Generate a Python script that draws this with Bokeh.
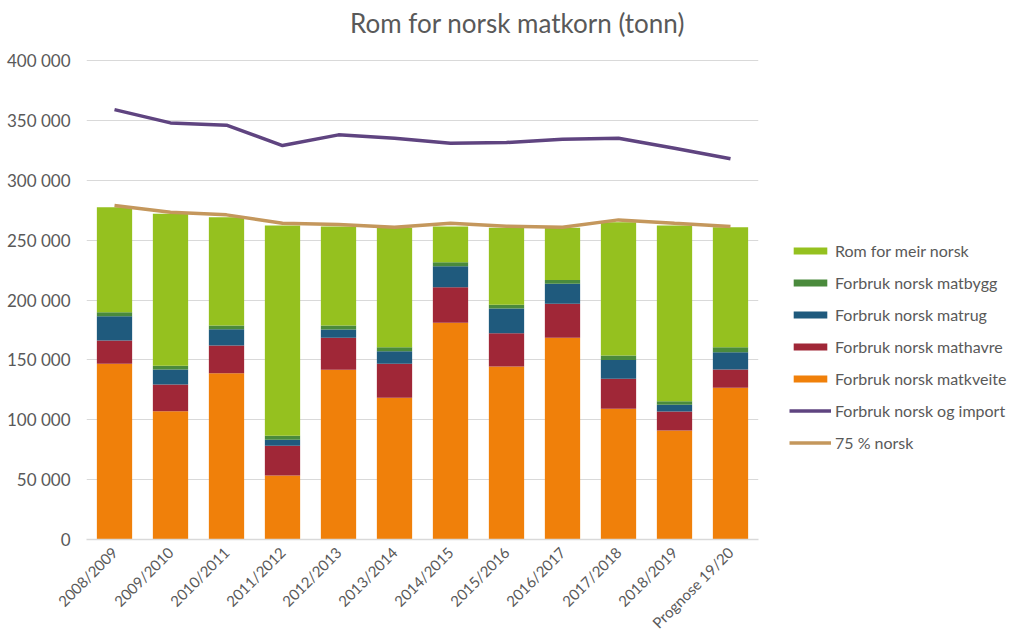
import math
from bokeh.plotting import figure
from bokeh.models import ColumnDataSource, FactorRange, Range1d, Legend, LegendItem, Label
from bokeh.embed import file_html
from bokeh.resources import INLINE

categories = ["2008/2009", "2009/2010", "2010/2011", "2011/2012", "2012/2013", "2013/2014",
              "2014/2015", "2015/2016", "2016/2017", "2017/2018", "2018/2019", "Prognose 19/20"]
matkveite = [146700, 107200, 138900, 53400, 141700, 118300, 180900, 144500, 168400, 109100, 91000, 126700]
mathavre = [19500, 22200, 23100, 24800, 26700, 28400, 29800, 27800, 28400, 25100, 15900, 15300]
matrug = [20300, 12600, 13600, 5000, 6900, 10500, 17500, 20600, 16700, 15800, 5600, 14400]
matbygg = [3300, 3000, 3100, 3400, 3400, 3400, 3400, 3100, 3300, 3600, 3000, 4200]
rom_meir = [87700, 127000, 90400, 175600, 82700, 99700, 29800, 64300, 43500, 111400, 146700, 100200]
norsk_og_import = [359000, 347900, 346000, 329000, 337900, 335100, 330900, 331500, 334300, 335100, 326800, 317900]
norsk_75 = [278900, 273300, 271100, 264100, 263000, 260800, 264100, 261600, 260800, 266900, 264100, 261400]

y_ticks = [0, 50000, 100000, 150000, 200000, 250000, 300000, 350000, 400000]
y_tick_labels = ["0", "50 000", "100 000", "150 000", "200 000", "250 000", "300 000", "350 000", "400 000"]
title_text = "Rom for norsk matkorn (tonn)"

FONT = "Lato"
GREY = "#595959"

# frame extends above the top gridline to leave room for the title inside it
FRAME_H = 535
Y_TOP = 400000 * FRAME_H / 479

src = ColumnDataSource(dict(cat=categories, matkveite=matkveite, mathavre=mathavre, matrug=matrug,
                            matbygg=matbygg, rom_meir=rom_meir, imp=norsk_og_import, n75=norsk_75))

p = figure(x_range=FactorRange(*categories, range_padding=0), y_range=Range1d(0, Y_TOP),
           frame_width=672, frame_height=FRAME_H, output_backend="svg", toolbar_location=None,
           min_border_left=86, min_border_right=0, min_border_top=4, min_border_bottom=100)
p.title.visible = False

stack = ["matkveite", "mathavre", "matrug", "matbygg", "rom_meir"]
colors = ["#F0800A", "#A02737", "#1F5A7D", "#4A8A3C", "#95C11F"]
bars = p.vbar_stack(stack, x="cat", width=0.63, color=colors, line_color=None, source=src)

l_imp = p.line(x="cat", y="imp", source=src, line_color="#5F4480", line_width=3.5)
l_75 = p.line(x="cat", y="n75", source=src, line_color="#C4975C", line_width=3.5)

# chart title, centred over the whole picture (screen px from frame's top-left)
p.add_layout(Label(x=431, y=FRAME_H - 18, x_units="screen", y_units="screen", text=title_text,
                   text_font=FONT, text_font_size="26px", text_color=GREY,
                   text_align="center", text_baseline="middle"))

p.outline_line_color = None
p.xgrid.grid_line_color = None
p.ygrid.grid_line_color = "#D9D9D9"
p.ygrid.grid_line_width = 1

p.yaxis.ticker = y_ticks
p.yaxis.major_label_overrides = {t: l for t, l in zip(y_ticks, y_tick_labels)}
p.yaxis.axis_line_color = None
p.yaxis.major_tick_line_color = None
p.yaxis.minor_tick_line_color = None
p.yaxis.major_label_text_font = FONT
p.yaxis.major_label_text_font_size = "17px"
p.yaxis.major_label_text_color = GREY
p.yaxis.major_label_standoff = 10

p.xaxis.axis_line_color = "#D9D9D9"
p.xaxis.axis_line_width = 1.5
p.xaxis.major_tick_line_color = None
p.xaxis.minor_tick_line_color = None
p.xaxis.major_label_orientation = math.pi / 4
p.xaxis.major_label_text_font = FONT
p.xaxis.major_label_text_font_size = "15px"
p.xaxis.major_label_text_color = GREY
p.xaxis.major_label_standoff = 4

items = [
    LegendItem(label="Rom for meir norsk", renderers=[bars[4]]),
    LegendItem(label="Forbruk norsk matbygg", renderers=[bars[3]]),
    LegendItem(label="Forbruk norsk matrug", renderers=[bars[2]]),
    LegendItem(label="Forbruk norsk mathavre", renderers=[bars[1]]),
    LegendItem(label="Forbruk norsk matkveite", renderers=[bars[0]]),
    LegendItem(label="Forbruk norsk og import", renderers=[l_imp]),
    LegendItem(label="75 % norsk", renderers=[l_75]),
]
legend = Legend(items=items, location=(31, 87), orientation="vertical",
                glyph_width=42, glyph_height=9, label_height=14, spacing=13,
                padding=0, margin=0, label_standoff=4,
                label_text_font=FONT, label_text_font_size="16px", label_text_color=GREY,
                border_line_color=None, background_fill_alpha=0)
p.add_layout(legend, "right")

open("out.html", "w").write(file_html(p, INLINE))
